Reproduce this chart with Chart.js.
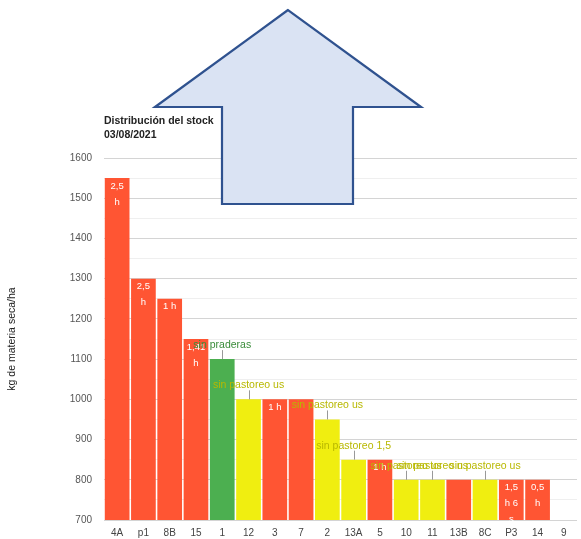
<!DOCTYPE html>
<html><head><meta charset="utf-8">
<script src="https://cdn.jsdelivr.net/npm/chart.js@4"></script>
<style>
html,body{margin:0;padding:0;background:#fff;}
#wrap{position:relative;width:581px;height:539px;overflow:hidden;}
#wrap canvas,#wrap svg{position:absolute;left:0;top:0;}
</style>
</head><body>
<div id="wrap">
<canvas id="c" width="581" height="539"></canvas>
<svg width="581" height="539"><polygon points="288,10 155,107 222,107 222,204 353,204 353,107 421,107" fill="#dae3f3" stroke="#2f528f" stroke-width="2.2" stroke-linejoin="miter"/></svg>
</div>
<script>
const categories = ["4A","p1","8B","15","1","12","3","7","2","13A","5","10","11","13B","8C","P3","14","9"];
const stockValues = [1550,1300,1250,1150,1100,1000,1000,1000,950,850,850,800,800,800,800,800,800,null];
const barStatus = ["r","r","r","r","g","y","r","r","y","y","r","y","y","r","y","r","r",""];
const innerLabels = ["2,5 h","2,5 h","1 h","1,41 h","","","1 h","","","","1 h","","","","","1,5 h 6 s","0,5 h",""];
const outerLabels = ["","","","","sin praderas","sin pastoreo us","","","sin pastoreo us","sin pastoreo 1,5","","sin pastoreo us","sin pastoreo us","","sin pastoreo us","","",""];
const titleLines = ["Distribución del stock","03/08/2021"];
const yAxisTitle = "kg de materia seca/ha";

const FONT = "'Liberation Sans', Arial, sans-serif";
const statusColor = {r:"#ff5533", g:"#4caf50", y:"#f0ee10", "":"#ffffff"};
const annColor = {g:"#3a8c3a", y:"#b8b800", r:"#ffffff", "":"#000"};

const annotPlugin = {
  id: "annot",
  afterDatasetsDraw(chart) {
    const ctx = chart.ctx;
    const meta = chart.getDatasetMeta(0);
    ctx.save();
    ctx.font = "9.5px " + FONT;
    ctx.textAlign = "center";
    ctx.textBaseline = "middle";
    meta.data.forEach((bar, i) => {
      const t = innerLabels[i];
      if (!t || stockValues[i] == null) return;
      const maxW = bar.width - 6;
      const words = t.split(" ");
      const lines = [];
      let cur = "";
      words.forEach(w => {
        const test = cur ? cur + " " + w : w;
        if (ctx.measureText(test).width <= maxW || !cur) cur = test;
        else { lines.push(cur); cur = w; }
      });
      if (cur) lines.push(cur);
      ctx.fillStyle = "#ffffff";
      lines.forEach((l, k) => ctx.fillText(l, bar.x, bar.y + 8 + k * 16));
    });
    meta.data.forEach((bar, i) => {
      const t = outerLabels[i];
      if (!t || stockValues[i] == null) return;
      ctx.strokeStyle = "#999999";
      ctx.lineWidth = 1;
      ctx.beginPath();
      ctx.moveTo(Math.round(bar.x) + 0.5, bar.y - 9);
      ctx.lineTo(Math.round(bar.x) + 0.5, bar.y);
      ctx.stroke();
      ctx.fillStyle = annColor[barStatus[i]];
      ctx.font = "10.5px " + FONT;
      ctx.fillText(t, bar.x, bar.y - 14);
    });
    ctx.restore();
  },
  afterDraw(chart) {
    const ctx = chart.ctx;
    const a = chart.chartArea;
    ctx.save();
    ctx.fillStyle = "#222222";
    ctx.font = "bold 10.5px " + FONT;
    ctx.textAlign = "left";
    ctx.textBaseline = "middle";
    ctx.fillText(titleLines[0], a.left, 121);
    ctx.fillText(titleLines[1], a.left, 135);
    ctx.translate(12, (a.top + a.bottom) / 2);
    ctx.rotate(-Math.PI / 2);
    ctx.textAlign = "center";
    ctx.font = "10.5px " + FONT;
    ctx.fillText(yAxisTitle, 0, 0);
    ctx.restore();
  }
};

new Chart(document.getElementById("c"), {
  type: "bar",
  data: {
    labels: categories,
    datasets: [{
      data: stockValues,
      backgroundColor: barStatus.map(s => statusColor[s]),
      borderWidth: 0,
      barPercentage: 0.94,
      categoryPercentage: 1.0
    }]
  },
  options: {
    responsive: false,
    animation: false,
    layout: { padding: { top: 158, right: 4, left: 0, bottom: 0 } },
    plugins: { legend: { display: false }, tooltip: { enabled: false }, title: { display: false } },
    scales: {
      x: {
        grid: { display: false, drawTicks: false },
        border: { display: false },
        ticks: { font: { size: 10, family: FONT }, color: "#444444", padding: 7, maxRotation: 0, autoSkip: false },
        afterFit(s) { s.height = 19; }
      },
      y: {
        min: 700, max: 1600,
        grid: {
          drawTicks: false,
          color: c => (c.tick && c.tick.value % 100 === 0) ? "#d4d4d4" : "#efefef",
          lineWidth: 1
        },
        border: { display: false },
        ticks: {
          stepSize: 50, autoSkip: false,
          font: { size: 10, family: FONT }, color: "#555555", padding: 12,
          callback: v => (v % 100 === 0 ? String(v) : "")
        },
        afterFit(s) { s.width = 104; }
      }
    }
  },
  plugins: [annotPlugin]
});
</script>
</body></html>
